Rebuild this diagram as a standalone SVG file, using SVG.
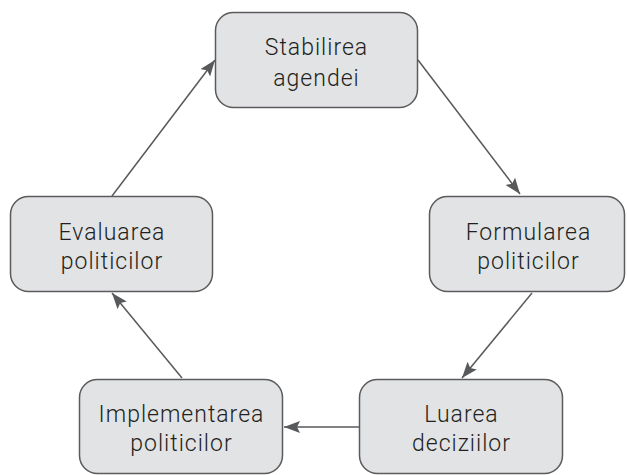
<svg xmlns="http://www.w3.org/2000/svg" width="627" height="475" viewBox="0 0 627 475">
  <style>
    .box { fill: #e2e3e5; stroke: #5b5b5d; stroke-width: 1.5; }
    .lbl { font-family: Roboto, "Liberation Sans", sans-serif; font-size: 23px; font-weight: 300; letter-spacing: 1px; fill: #231f20; text-anchor: middle; }
    .edge { stroke: #58595b; stroke-width: 1.5; fill: none; marker-end: url(#ah); }
  </style>
  <defs>
    <marker id="ah" markerUnits="userSpaceOnUse" markerWidth="18" markerHeight="14" refX="16" refY="6" orient="auto">
      <path d="M0,0 L16,6 L0,12 L3,6 z" fill="#58595b"/>
    </marker>
  </defs>
  <rect width="627" height="475" fill="#ffffff"/>
  <g id="connectors">
    <line class="edge" x1="418" y1="60" x2="520" y2="194"/>
    <line class="edge" x1="532" y1="293" x2="462" y2="378"/>
    <line class="edge" x1="359" y1="427" x2="284" y2="427"/>
    <line class="edge" x1="182" y1="378" x2="112" y2="293"/>
    <line class="edge" x1="112" y1="196" x2="215" y2="60"/>
  </g>
  <g id="node-stabilirea">
    <rect class="box" x="215.5" y="12.5" width="202" height="95" rx="18"/>
    <text class="lbl" x="316.5" y="55">Stabilirea</text>
    <text class="lbl" x="316.5" y="86">agendei</text>
  </g>
  <g id="node-formularea">
    <rect class="box" x="429.5" y="196.5" width="195" height="95" rx="18"/>
    <text class="lbl" x="528.5" y="240">Formularea</text>
    <text class="lbl" x="528.5" y="269">politicilor</text>
  </g>
  <g id="node-luarea">
    <rect class="box" x="359.5" y="379.5" width="203" height="94" rx="18"/>
    <text class="lbl" x="461.5" y="422">Luarea</text>
    <text class="lbl" x="461.5" y="451">deciziilor</text>
  </g>
  <g id="node-implementarea">
    <rect class="box" x="79.5" y="379.5" width="203" height="94" rx="18"/>
    <text class="lbl" x="181.5" y="422">Implementarea</text>
    <text class="lbl" x="181.5" y="451">politicilor</text>
  </g>
  <g id="node-evaluarea">
    <rect class="box" x="10.5" y="196.5" width="202" height="95" rx="18"/>
    <text class="lbl" x="112" y="240">Evaluarea</text>
    <text class="lbl" x="112" y="269">politicilor</text>
  </g>
</svg>
